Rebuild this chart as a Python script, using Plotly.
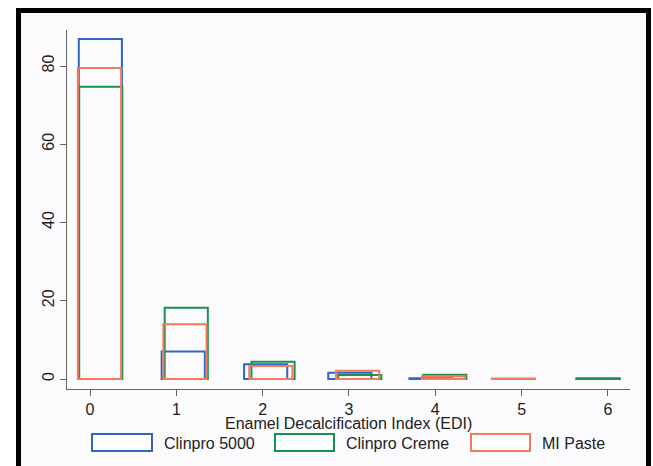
import plotly.graph_objects as go

# ---- data (percent of teeth per EDI score) ----
series_names = ["Clinpro 5000", "Clinpro Creme", "MI Paste"]
edi_scores = [0, 1, 2, 3, 4, 5, 6]
clinpro5000_pct = [86.9, 7.0, 3.75, 1.6, 0.2, None, 0.15]
clinprocreme_pct = [74.7, 18.2, 4.4, 1.0, 1.1, None, 0.15]
mipaste_pct = [79.5, 14.0, 3.3, 2.1, 0.7, 0.15, None]
# histogram bin centres as drawn by the original software
clinpro5000_bins = [0.12, 1.08, 2.035, 3.01, 3.95, 4.92, 5.885]
clinprocreme_bins = [0.125, 1.115, 2.12, 3.125, 4.11, 4.92, 5.885]
mipaste_bins = [0.11, 1.10, 2.095, 3.10, 4.095, 4.905, 5.88]
y_ticks = [0, 20, 40, 60, 80]
x_title = "Enamel Decalcification Index (EDI)"

colors = ["#2f66c4", "#17924f", "#f47a5c"]
FONT = "Liberation Sans, Arial, sans-serif"

W, H = 653, 466
L, R, T, B = 67, 630, 30, 389


def px(x):
    return (x - L) / (R - L)


def py(y):
    return (B - y) / (B - T)


fig = go.Figure()
for name, xs, ys, c in zip(series_names,
                           [clinpro5000_bins, clinprocreme_bins, mipaste_bins],
                           [clinpro5000_pct, clinprocreme_pct, mipaste_pct],
                           colors):
    xx = [x for x, y in zip(xs, ys) if y is not None]
    yy = [y for y in ys if y is not None]
    fig.add_trace(go.Bar(x=xx, y=yy, width=0.5, name=name,
                         marker=dict(color="rgba(0,0,0,0)",
                                     line=dict(color=c, width=2)),
                         showlegend=False))

shapes = [
    dict(type="rect", xref="paper", yref="paper",
         x0=px(18.5), x1=px(648.5), y0=py(10.5), y1=py(500),
         line=dict(color="black", width=5), fillcolor="#fbfbfd", layer="below"),
]
annotations = [
    dict(xref="paper", yref="paper", x=0.5, y=py(423.5), xanchor="center",
         yanchor="middle", showarrow=False, text=x_title,
         font=dict(family=FONT, size=16, color="#222")),
]
legend_boxes = [(92, 152), (275, 334), (471, 530)]
legend_text_x = [162, 344, 540]
for (x0, x1), tx, c, name in zip(legend_boxes, legend_text_x, colors, series_names):
    shapes.append(dict(type="rect", xref="paper", yref="paper",
                       x0=px(x0), x1=px(x1), y0=py(451), y1=py(434),
                       line=dict(color=c, width=2), fillcolor="white"))
    annotations.append(dict(xref="paper", yref="paper", x=px(tx), y=py(443),
                            xanchor="left", yanchor="middle", showarrow=False,
                            text=name, font=dict(family=FONT, size=16, color="#222")))

fig.update_layout(
    width=W, height=H,
    margin=dict(l=L, r=W - R, t=T, b=H - B, pad=0),
    paper_bgcolor="white", plot_bgcolor="rgba(0,0,0,0)",
    barmode="overlay",
    font=dict(family=FONT, size=16, color="#222"),
    shapes=shapes, annotations=annotations,
    xaxis=dict(range=[(L - 90) / 86.33, (R - 90) / 86.33],
               tickmode="array", tickvals=edi_scores,
               ticktext=[str(v) for v in edi_scores],
               showgrid=False, zeroline=False, showline=True,
               linecolor="#666", linewidth=1, ticks="outside", ticklen=6,
               tickcolor="#666", tickfont=dict(size=16, color="#222"),
               ticklabelstandoff=0),
    yaxis=dict(range=[(379 - B) / 3.9125, (379 - T) / 3.9125],
               tickmode="array", tickvals=y_ticks,
               showgrid=False, zeroline=False, showline=True,
               linecolor="#666", linewidth=1, ticks="outside", ticklen=6,
               tickcolor="#666", tickangle=-90,
               tickfont=dict(size=16, color="#222")),
)

fig.write_html("out.html", config={"displayModeBar": False},
               post_script="document.body.style.margin='0';document.body.style.overflow='hidden';")
